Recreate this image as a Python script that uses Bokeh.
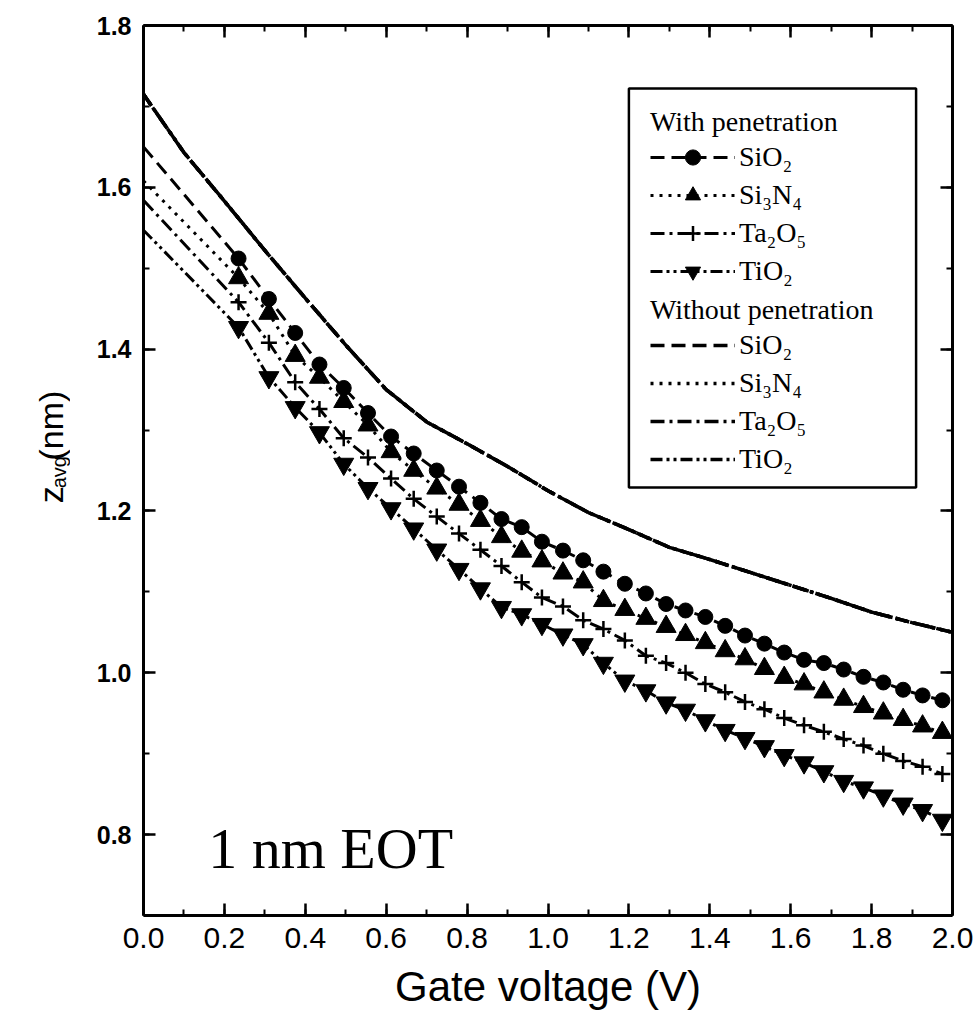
import math
from bokeh.plotting import figure
from bokeh.layouts import row
from bokeh.models import (Range1d, LinearAxis, Legend, LegendItem, Label, BoxAnnotation,
                          SingleIntervalTicker, PrintfTickFormatter, CustomJSTickFormatter)
from bokeh.core.properties import value
from bokeh.embed import file_html
from bokeh.resources import INLINE

# ---------------- data ----------------
# gate voltage of the marker points ("with penetration" curves)
v_marks = [0.235, 0.31, 0.375, 0.435, 0.495, 0.555, 0.612, 0.668, 0.725, 0.78, 0.833,
           0.885, 0.935, 0.985, 1.037, 1.087, 1.137, 1.19, 1.242, 1.292, 1.34, 1.389,
           1.438, 1.487, 1.535, 1.584, 1.633, 1.682, 1.731, 1.78, 1.829, 1.878, 1.926, 1.975]

z_sio2 = [1.512, 1.462, 1.420, 1.381, 1.352, 1.321, 1.292, 1.271, 1.250, 1.230, 1.210,
          1.190, 1.180, 1.162, 1.151, 1.139, 1.125, 1.110, 1.098, 1.085, 1.077, 1.069,
          1.058, 1.046, 1.036, 1.025, 1.016, 1.012, 1.004, 0.995, 0.988, 0.979, 0.972, 0.966]
z_si3n4 = [1.488, 1.444, 1.392, 1.365, 1.335, 1.306, 1.273, 1.250, 1.228, 1.208, 1.188,
           1.168, 1.150, 1.138, 1.123, 1.112, 1.089, 1.078, 1.067, 1.057, 1.047, 1.037,
           1.027, 1.017, 1.005, 0.994, 0.986, 0.976, 0.967, 0.958, 0.950, 0.942, 0.934, 0.926]
z_ta2o5 = [1.458, 1.408, 1.359, 1.326, 1.290, 1.266, 1.240, 1.215, 1.193, 1.172, 1.152,
           1.132, 1.112, 1.093, 1.082, 1.065, 1.054, 1.040, 1.021, 1.012, 1.000, 0.986,
           0.976, 0.964, 0.955, 0.944, 0.935, 0.927, 0.918, 0.910, 0.900, 0.891, 0.884, 0.875]
z_tio2 = [1.427, 1.365, 1.328, 1.297, 1.258, 1.228, 1.203, 1.178, 1.152, 1.128, 1.104,
          1.081, 1.072, 1.060, 1.047, 1.035, 1.012, 0.990, 0.978, 0.963, 0.954, 0.941,
          0.929, 0.919, 0.909, 0.898, 0.889, 0.878, 0.866, 0.858, 0.848, 0.838, 0.830, 0.818]

# values at V = 0 of the "with penetration" lines
z0_sio2 = 1.650
z0_si3n4 = 1.608
z0_ta2o5 = 1.584
z0_tio2 = 1.547

# "without penetration" curves (all four coincide)
v_without = [0.0, 0.1, 0.2, 0.3, 0.4, 0.5, 0.6, 0.7, 0.8, 0.9, 1.0,
             1.1, 1.2, 1.3, 1.4, 1.5, 1.6, 1.7, 1.8, 1.9, 2.0]
zw_sio2 = [1.715, 1.643, 1.583, 1.522, 1.463, 1.405, 1.350, 1.310, 1.283, 1.255, 1.225,
           1.198, 1.177, 1.155, 1.140, 1.124, 1.108, 1.092, 1.075, 1.062, 1.050]
zw_si3n4 = list(zw_sio2)
zw_ta2o5 = list(zw_sio2)
zw_tio2 = list(zw_sio2)

names = ["SiO₂", "Si₃N₄", "Ta₂O₅", "TiO₂"]
x_ticks_interval = 0.2
y_ticks_interval = 0.2

LABEL_W = 70
W, H = 977, 1021

# ---------------- main figure ----------------
p = figure(width=W - LABEL_W, height=H, x_range=Range1d(0, 2.0), y_range=Range1d(0.7, 1.8),
           output_backend="svg", toolbar_location=None,
           min_border_left=143 - LABEL_W, min_border_right=25, min_border_top=25,
           min_border_bottom=106)
p.grid.visible = False
p.outline_line_color = None
p.background_fill_color = "white"
p.border_fill_color = "white"

def style_axis(ax):
    ax.axis_line_width = 3
    ax.axis_line_color = "black"
    ax.major_tick_in = 12
    ax.major_tick_out = 0
    ax.minor_tick_in = 6
    ax.minor_tick_out = 0
    ax.major_tick_line_width = 2.5
    ax.minor_tick_line_width = 2
    ax.major_tick_line_color = "black"
    ax.minor_tick_line_color = "black"

xa = p.xaxis[0]
xa.ticker = SingleIntervalTicker(interval=x_ticks_interval, num_minor_ticks=2)
xa.formatter = PrintfTickFormatter(format="%.1f")
style_axis(xa)
xa.major_label_text_font = "Liberation Sans"
xa.major_label_text_font_size = "30px"
xa.major_label_text_color = "black"
xa.major_label_standoff = 12
xa.axis_label = "Gate voltage (V)"
xa.axis_label_text_font = "Liberation Sans"
xa.axis_label_text_font_size = "42px"
xa.axis_label_text_font_style = "normal"
xa.axis_label_text_color = "black"
xa.axis_label_standoff = 12

ya = p.yaxis[0]
ya.ticker = SingleIntervalTicker(interval=y_ticks_interval, num_minor_ticks=2)
ya.formatter = PrintfTickFormatter(format="%.1f")
style_axis(ya)
ya.major_label_text_font = "Liberation Sans"
ya.major_label_text_font_size = "25px"
ya.major_label_text_font_style = "bold"
ya.major_label_text_color = "black"
ya.major_label_standoff = 12

blank = CustomJSTickFormatter(code="return ''")
top_ax = LinearAxis(ticker=SingleIntervalTicker(interval=x_ticks_interval, num_minor_ticks=2),
                    formatter=blank, major_label_text_font_size="0px", major_label_standoff=0)
style_axis(top_ax)
right_ax = LinearAxis(ticker=SingleIntervalTicker(interval=y_ticks_interval, num_minor_ticks=2),
                      formatter=blank, major_label_text_font_size="0px", major_label_standoff=0)
style_axis(right_ax)
p.add_layout(top_ax, "above")
p.add_layout(right_ax, "right")

# ---------------- curves ----------------
dashes = ["14 7", "3 6", "14 5 3 5", "12 4 3 4 3 4"]
markers = ["circle", "triangle", "cross", "inverted_triangle"]
msizes = [15, 20, 16, 20]
with_z = [z_sio2, z_si3n4, z_ta2o5, z_tio2]
with_z0 = [z0_sio2, z0_si3n4, z0_ta2o5, z0_tio2]
without_z = [zw_sio2, zw_si3n4, zw_ta2o5, zw_tio2]

items_with = []
for i in range(4):
    lr = p.line([0.0] + v_marks, [with_z0[i]] + with_z[i], line_color="black",
                line_width=3, line_dash=dashes[i])
    sr = p.scatter(v_marks, with_z[i], marker=markers[i], size=msizes[i],
                   fill_color="black", line_color="black",
                   line_width=2.5 if markers[i] == "cross" else 1)
    items_with.append(LegendItem(label=names[i], renderers=[lr, sr]))

items_without = []
for i in range(4):
    lr = p.line(v_without, without_z[i], line_color="black", line_width=3.5,
                line_dash=dashes[i])
    items_without.append(LegendItem(label=names[i], renderers=[lr]))

def make_legend(items, title, loc):
    lg = Legend(items=items, location=loc, title=title)
    lg.title_text_font = "Liberation Serif"
    lg.title_text_font_size = "28px"
    lg.title_text_font_style = "normal"
    lg.title_text_color = "black"
    lg.title_standoff = 0
    lg.label_text_font = "Liberation Serif"
    lg.label_text_font_size = "28px"
    lg.label_text_color = "black"
    lg.glyph_width = 85
    lg.glyph_height = 38
    lg.label_height = 38
    lg.label_standoff = 4
    lg.spacing = 0
    lg.padding = 20
    lg.margin = 0
    lg.border_line_alpha = 0
    lg.background_fill_alpha = 0
    return lg

p.add_layout(make_legend(items_with, "With penetration", (487, 605)))
p.add_layout(make_legend(items_without, "Without penetration", (487, 417)))

# legend frame
p.add_layout(BoxAnnotation(left=1.2, right=1.91, top=1.722, bottom=1.229,
                           fill_alpha=0, line_color="black", line_alpha=1, line_width=2.5))

# annotation text
p.add_layout(Label(x=0.16, y=0.783, text="1 nm EOT", text_font="Liberation Serif",
                   text_font_size="58px", text_baseline="alphabetic", text_color="black"))

# ---------------- y-axis title panel: z_avg(nm) ----------------
q = figure(width=LABEL_W, height=H, x_range=Range1d(0, LABEL_W), y_range=Range1d(0, H),
           output_backend="svg", toolbar_location=None, min_border=0)
q.axis.visible = False
q.grid.visible = False
q.outline_line_color = None
q.text(x=[50], y=[H - 548], text=["z"], angle=math.pi / 2,
       text_font=value("Liberation Sans"), text_font_size=value("34px"),
       text_align="left", text_baseline="alphabetic", text_color="black")
q.text(x=[58], y=[H - 531], text=["avg"], angle=math.pi / 2,
       text_font=value("Liberation Sans"), text_font_size=value("20px"),
       text_align="left", text_baseline="alphabetic", text_color="black")
q.text(x=[50], y=[H - 499], text=["(nm)"], angle=math.pi / 2,
       text_font=value("Liberation Sans"), text_font_size=value("34px"),
       text_align="left", text_baseline="alphabetic", text_color="black")

layout = row(q, p, spacing=0)
open("out.html", "w").write(file_html(layout, INLINE))
